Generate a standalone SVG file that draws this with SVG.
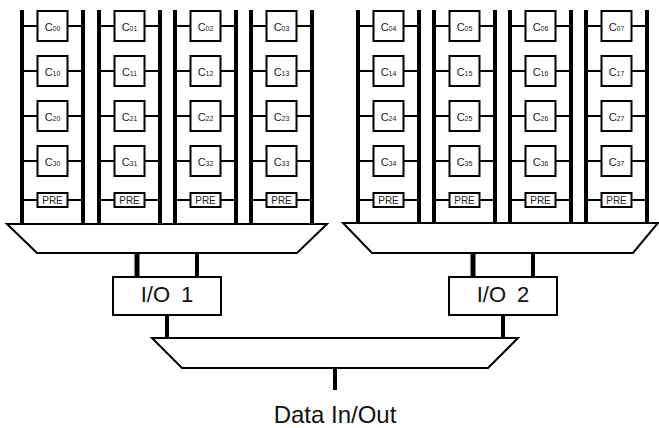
<svg xmlns="http://www.w3.org/2000/svg" width="659" height="428" viewBox="0 0 659 428">
<style>
.bar{stroke:#000;stroke-width:4;fill:none}
.w{stroke:#000;stroke-width:2;fill:none}
.cell{fill:#fff;stroke:#000;stroke-width:2}
.pre{fill:#fff;stroke:#000;stroke-width:2}
.c{font-family:"Liberation Sans",Arial,sans-serif;font-size:11px;fill:#222;text-anchor:middle}
.s{font-size:7px}
.p{font-family:"Liberation Sans",Arial,sans-serif;font-size:10px;fill:#222;text-anchor:middle}
.mux{fill:#fff;stroke:#000;stroke-width:2}
.io{fill:#fff;stroke:#000;stroke-width:2}
.big{font-family:"Liberation Sans",Arial,sans-serif;font-size:22px;fill:#111;text-anchor:middle}
</style>
<g id="connectors">
<!-- bit lines -->
<path class="bar" d="M22 10V224M83 10V224M99 10V224M160 10V224M175 10V224M236 10V224M251 10V224M312 10V224"/>
<path class="bar" d="M358 10V223M419 10V223M434 10V223M495 10V223M510 10V223M571 10V223M586 10V223M647 10V223"/>
<!-- cell wires -->
<path class="w" d="M22 26H37.5M67.5 26H83M22 71H37.5M67.5 71H83M22 116H37.5M67.5 116H83M22 161H37.5M67.5 161H83M22 200H37.5M67.5 200H83"/>
<path class="w" d="M99 26H114.5M144.5 26H160M99 71H114.5M144.5 71H160M99 116H114.5M144.5 116H160M99 161H114.5M144.5 161H160M99 200H114.5M144.5 200H160"/>
<path class="w" d="M175 26H190.5M220.5 26H236M175 71H190.5M220.5 71H236M175 116H190.5M220.5 116H236M175 161H190.5M220.5 161H236M175 200H190.5M220.5 200H236"/>
<path class="w" d="M251 26H266.5M296.5 26H312M251 71H266.5M296.5 71H312M251 116H266.5M296.5 116H312M251 161H266.5M296.5 161H312M251 200H266.5M296.5 200H312"/>
<path class="w" d="M358 26H373.5M403.5 26H419M358 71H373.5M403.5 71H419M358 116H373.5M403.5 116H419M358 161H373.5M403.5 161H419M358 200H373.5M403.5 200H419"/>
<path class="w" d="M434 26H449.5M479.5 26H495M434 71H449.5M479.5 71H495M434 116H449.5M479.5 116H495M434 161H449.5M479.5 161H495M434 200H449.5M479.5 200H495"/>
<path class="w" d="M510 26H525.5M555.5 26H571M510 71H525.5M555.5 71H571M510 116H525.5M555.5 116H571M510 161H525.5M555.5 161H571M510 200H525.5M555.5 200H571"/>
<path class="w" d="M586 26H601.5M631.5 26H647M586 71H601.5M631.5 71H647M586 116H601.5M631.5 116H647M586 161H601.5M631.5 161H647M586 200H601.5M631.5 200H647"/>
<!-- mux to I/O -->
<path stroke="#000" stroke-width="5" d="M137 253V277"/>
<path stroke="#000" stroke-width="4" d="M197 253V277"/>
<path stroke="#000" stroke-width="5" d="M473 253V277"/>
<path stroke="#000" stroke-width="4" d="M533 253V277"/>
<!-- I/O to bottom mux -->
<path stroke="#000" stroke-width="4" d="M167 315V338M503 315V338"/>
<!-- data out -->
<path stroke="#000" stroke-width="4" d="M335 368V390"/>
</g>
<g id="cells">
<g id="c00"><rect class="cell" x="37.5" y="11" width="30" height="30"/><text class="c" x="52.5" y="31">C<tspan class="s">00</tspan></text></g>
<g id="c10"><rect class="cell" x="37.5" y="56" width="30" height="30"/><text class="c" x="52.5" y="76">C<tspan class="s">10</tspan></text></g>
<g id="c20"><rect class="cell" x="37.5" y="101" width="30" height="30"/><text class="c" x="52.5" y="121">C<tspan class="s">20</tspan></text></g>
<g id="c30"><rect class="cell" x="37.5" y="146" width="30" height="30"/><text class="c" x="52.5" y="166">C<tspan class="s">30</tspan></text></g>
<g id="pre0"><rect class="pre" x="37.5" y="193" width="30" height="14"/><text class="p" x="52.5" y="203.5">PRE</text></g>

<g id="c01"><rect class="cell" x="114.5" y="11" width="30" height="30"/><text class="c" x="129.5" y="31">C<tspan class="s">01</tspan></text></g>
<g id="c11"><rect class="cell" x="114.5" y="56" width="30" height="30"/><text class="c" x="129.5" y="76">C<tspan class="s">11</tspan></text></g>
<g id="c21"><rect class="cell" x="114.5" y="101" width="30" height="30"/><text class="c" x="129.5" y="121">C<tspan class="s">21</tspan></text></g>
<g id="c31"><rect class="cell" x="114.5" y="146" width="30" height="30"/><text class="c" x="129.5" y="166">C<tspan class="s">31</tspan></text></g>
<g id="pre1"><rect class="pre" x="114.5" y="193" width="30" height="14"/><text class="p" x="129.5" y="203.5">PRE</text></g>

<g id="c02"><rect class="cell" x="190.5" y="11" width="30" height="30"/><text class="c" x="205.5" y="31">C<tspan class="s">02</tspan></text></g>
<g id="c12"><rect class="cell" x="190.5" y="56" width="30" height="30"/><text class="c" x="205.5" y="76">C<tspan class="s">12</tspan></text></g>
<g id="c22"><rect class="cell" x="190.5" y="101" width="30" height="30"/><text class="c" x="205.5" y="121">C<tspan class="s">22</tspan></text></g>
<g id="c32"><rect class="cell" x="190.5" y="146" width="30" height="30"/><text class="c" x="205.5" y="166">C<tspan class="s">32</tspan></text></g>
<g id="pre2"><rect class="pre" x="190.5" y="193" width="30" height="14"/><text class="p" x="205.5" y="203.5">PRE</text></g>

<g id="c03"><rect class="cell" x="266.5" y="11" width="30" height="30"/><text class="c" x="281.5" y="31">C<tspan class="s">03</tspan></text></g>
<g id="c13"><rect class="cell" x="266.5" y="56" width="30" height="30"/><text class="c" x="281.5" y="76">C<tspan class="s">13</tspan></text></g>
<g id="c23"><rect class="cell" x="266.5" y="101" width="30" height="30"/><text class="c" x="281.5" y="121">C<tspan class="s">23</tspan></text></g>
<g id="c33"><rect class="cell" x="266.5" y="146" width="30" height="30"/><text class="c" x="281.5" y="166">C<tspan class="s">33</tspan></text></g>
<g id="pre3"><rect class="pre" x="266.5" y="193" width="30" height="14"/><text class="p" x="281.5" y="203.5">PRE</text></g>

<g id="c04"><rect class="cell" x="373.5" y="11" width="30" height="30"/><text class="c" x="388.5" y="31">C<tspan class="s">04</tspan></text></g>
<g id="c14"><rect class="cell" x="373.5" y="56" width="30" height="30"/><text class="c" x="388.5" y="76">C<tspan class="s">14</tspan></text></g>
<g id="c24"><rect class="cell" x="373.5" y="101" width="30" height="30"/><text class="c" x="388.5" y="121">C<tspan class="s">24</tspan></text></g>
<g id="c34"><rect class="cell" x="373.5" y="146" width="30" height="30"/><text class="c" x="388.5" y="166">C<tspan class="s">34</tspan></text></g>
<g id="pre4"><rect class="pre" x="373.5" y="193" width="30" height="14"/><text class="p" x="388.5" y="203.5">PRE</text></g>

<g id="c05"><rect class="cell" x="449.5" y="11" width="30" height="30"/><text class="c" x="464.5" y="31">C<tspan class="s">05</tspan></text></g>
<g id="c15"><rect class="cell" x="449.5" y="56" width="30" height="30"/><text class="c" x="464.5" y="76">C<tspan class="s">15</tspan></text></g>
<g id="c25"><rect class="cell" x="449.5" y="101" width="30" height="30"/><text class="c" x="464.5" y="121">C<tspan class="s">25</tspan></text></g>
<g id="c35"><rect class="cell" x="449.5" y="146" width="30" height="30"/><text class="c" x="464.5" y="166">C<tspan class="s">35</tspan></text></g>
<g id="pre5"><rect class="pre" x="449.5" y="193" width="30" height="14"/><text class="p" x="464.5" y="203.5">PRE</text></g>

<g id="c06"><rect class="cell" x="525.5" y="11" width="30" height="30"/><text class="c" x="540.5" y="31">C<tspan class="s">06</tspan></text></g>
<g id="c16"><rect class="cell" x="525.5" y="56" width="30" height="30"/><text class="c" x="540.5" y="76">C<tspan class="s">16</tspan></text></g>
<g id="c26"><rect class="cell" x="525.5" y="101" width="30" height="30"/><text class="c" x="540.5" y="121">C<tspan class="s">26</tspan></text></g>
<g id="c36"><rect class="cell" x="525.5" y="146" width="30" height="30"/><text class="c" x="540.5" y="166">C<tspan class="s">36</tspan></text></g>
<g id="pre6"><rect class="pre" x="525.5" y="193" width="30" height="14"/><text class="p" x="540.5" y="203.5">PRE</text></g>

<g id="c07"><rect class="cell" x="601.5" y="11" width="30" height="30"/><text class="c" x="616.5" y="31">C<tspan class="s">07</tspan></text></g>
<g id="c17"><rect class="cell" x="601.5" y="56" width="30" height="30"/><text class="c" x="616.5" y="76">C<tspan class="s">17</tspan></text></g>
<g id="c27"><rect class="cell" x="601.5" y="101" width="30" height="30"/><text class="c" x="616.5" y="121">C<tspan class="s">27</tspan></text></g>
<g id="c37"><rect class="cell" x="601.5" y="146" width="30" height="30"/><text class="c" x="616.5" y="166">C<tspan class="s">37</tspan></text></g>
<g id="pre7"><rect class="pre" x="601.5" y="193" width="30" height="14"/><text class="p" x="616.5" y="203.5">PRE</text></g>
</g>
<g id="mux1"><polygon class="mux" points="7,224 327,224 297,253 37,253"/></g>
<g id="mux2"><polygon class="mux" points="343,223 658,223 633,253 372,253"/></g>
<g id="io1"><rect class="io" x="113" y="277" width="108" height="38"/><text class="big" x="167" y="302" word-spacing="5">I/O 1</text></g>
<g id="io2"><rect class="io" x="449" y="277" width="108" height="38"/><text class="big" x="503" y="302" word-spacing="5">I/O 2</text></g>
<g id="mux3"><polygon class="mux" points="152,338 518,338 488,368 182,368"/></g>
<g id="dataio"><text class="big" x="335" y="423" style="font-size:24px">Data In/Out</text></g>
</svg>
